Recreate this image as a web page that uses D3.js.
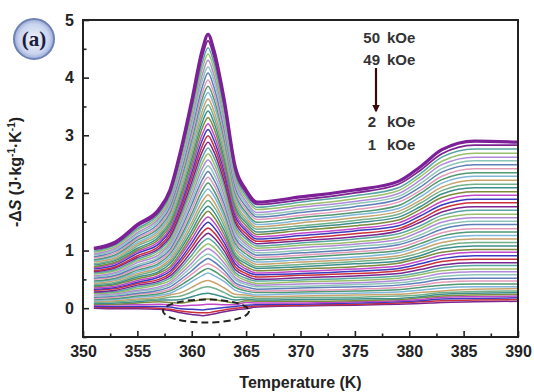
<!DOCTYPE html>
<html>
<head>
<meta charset="utf-8">
<script src="https://cdn.jsdelivr.net/npm/d3@7"></script>
<style>
	body { margin: 0; background: #fff; }
	text { font-family: Arial, "Liberation Sans", sans-serif; }
</style>
</head>
<body>
<div id="chart"></div>
<script>
"use strict"

//
// data: -dS (J/kg/K), one column per temperature,
// each column lists the 50 fields from 1 kOe up to 50 kOe
//
var fields = [1,2,3,4,5,6,7,8,9,10,11,12,13,14,15,16,17,18,19,20,21,22,23,24,25,
	26,27,28,29,30,31,32,33,34,35,36,37,38,39,40,41,42,43,44,45,46,47,48,49,50];
var temps = [351, 353, 355, 357, 358, 359, 360, 361, 361.5, 362, 363, 364, 365, 366, 370, 375, 379, 381, 383, 386, 390];
var dsCols = [
	[0.00,0.02,0.03,0.05,0.07,0.08,0.10,0.12,0.13,0.15,0.17,0.19,0.21,0.23,0.25,0.27,0.28,0.31,0.33,0.35,0.37,0.39,0.41,0.43,0.45,0.47,0.50,0.52,0.54,0.56,0.59,0.61,0.63,0.65,0.68,0.70,0.72,0.75,0.77,0.80,0.82,0.84,0.87,0.89,0.92,0.94,0.97,0.99,1.02,1.04],
	[-0.01,0.01,0.03,0.06,0.07,0.09,0.11,0.13,0.15,0.17,0.19,0.21,0.23,0.25,0.27,0.29,0.31,0.34,0.36,0.38,0.41,0.43,0.45,0.48,0.50,0.52,0.55,0.57,0.60,0.62,0.65,0.67,0.70,0.72,0.75,0.78,0.80,0.83,0.85,0.88,0.91,0.93,0.96,0.99,1.01,1.04,1.07,1.10,1.12,1.15],
	[-0.01,0.01,0.03,0.06,0.09,0.11,0.14,0.16,0.19,0.21,0.24,0.26,0.29,0.31,0.34,0.37,0.40,0.43,0.45,0.48,0.51,0.54,0.57,0.60,0.63,0.66,0.69,0.72,0.75,0.79,0.82,0.85,0.88,0.91,0.95,0.98,1.01,1.04,1.08,1.11,1.14,1.18,1.21,1.24,1.28,1.31,1.35,1.38,1.42,1.45],
	[-0.02,0.00,0.03,0.07,0.11,0.14,0.16,0.19,0.22,0.25,0.28,0.31,0.34,0.37,0.41,0.44,0.47,0.50,0.54,0.57,0.61,0.64,0.68,0.71,0.75,0.78,0.82,0.86,0.89,0.93,0.97,1.01,1.04,1.08,1.12,1.16,1.20,1.24,1.28,1.32,1.36,1.40,1.44,1.48,1.52,1.56,1.60,1.64,1.68,1.72],
	[-0.04,-0.02,0.02,0.06,0.10,0.14,0.19,0.23,0.26,0.30,0.33,0.37,0.41,0.44,0.48,0.52,0.56,0.60,0.64,0.68,0.72,0.77,0.81,0.85,0.89,0.94,0.98,1.02,1.07,1.11,1.15,1.20,1.24,1.29,1.34,1.38,1.43,1.48,1.52,1.57,1.62,1.66,1.71,1.76,1.81,1.85,1.90,1.95,2.00,2.05],
	[-0.08,-0.05,-0.01,0.04,0.09,0.15,0.21,0.27,0.35,0.40,0.45,0.50,0.55,0.60,0.65,0.70,0.75,0.81,0.86,0.92,0.97,1.03,1.08,1.14,1.20,1.25,1.31,1.37,1.43,1.49,1.55,1.61,1.67,1.73,1.79,1.85,1.92,1.98,2.04,2.10,2.17,2.23,2.29,2.36,2.42,2.49,2.55,2.62,2.68,2.75],
	[-0.11,-0.07,-0.02,0.05,0.12,0.20,0.28,0.36,0.46,0.52,0.59,0.65,0.72,0.78,0.85,0.92,0.99,1.06,1.13,1.20,1.27,1.34,1.42,1.49,1.57,1.64,1.72,1.80,1.87,1.95,2.03,2.11,2.19,2.27,2.35,2.43,2.51,2.59,2.67,2.75,2.84,2.92,3.00,3.09,3.17,3.26,3.34,3.43,3.51,3.60],
	[-0.13,-0.08,-0.03,0.06,0.15,0.25,0.36,0.46,0.57,0.65,0.73,0.81,0.89,0.98,1.06,1.15,1.23,1.32,1.41,1.50,1.59,1.68,1.77,1.86,1.96,2.05,2.15,2.24,2.34,2.44,2.53,2.63,2.73,2.83,2.93,3.03,3.14,3.24,3.34,3.44,3.55,3.65,3.75,3.86,3.97,4.07,4.18,4.28,4.39,4.50],
	[-0.12,-0.08,-0.02,0.07,0.16,0.26,0.37,0.48,0.61,0.69,0.77,0.86,0.94,1.03,1.12,1.21,1.30,1.39,1.49,1.58,1.68,1.77,1.87,1.97,2.07,2.17,2.27,2.37,2.47,2.57,2.68,2.78,2.88,2.99,3.10,3.20,3.31,3.42,3.53,3.63,3.74,3.85,3.96,4.08,4.19,4.30,4.41,4.52,4.64,4.75],
	[-0.10,-0.06,-0.01,0.07,0.15,0.24,0.35,0.45,0.57,0.65,0.73,0.81,0.89,0.98,1.06,1.15,1.23,1.32,1.41,1.50,1.59,1.68,1.77,1.86,1.96,2.05,2.15,2.24,2.34,2.44,2.53,2.63,2.73,2.83,2.93,3.03,3.14,3.24,3.34,3.44,3.55,3.65,3.75,3.86,3.97,4.07,4.18,4.28,4.39,4.50],
	[-0.06,-0.03,0.01,0.06,0.12,0.19,0.27,0.35,0.46,0.52,0.59,0.65,0.72,0.78,0.85,0.92,0.99,1.06,1.13,1.20,1.27,1.34,1.42,1.49,1.57,1.64,1.72,1.80,1.87,1.95,2.03,2.11,2.19,2.27,2.35,2.43,2.51,2.59,2.67,2.75,2.84,2.92,3.00,3.09,3.17,3.26,3.34,3.43,3.51,3.60],
	[-0.03,0.00,0.03,0.06,0.09,0.14,0.19,0.24,0.31,0.36,0.40,0.44,0.49,0.53,0.58,0.62,0.67,0.72,0.77,0.82,0.87,0.91,0.96,1.02,1.07,1.12,1.17,1.22,1.27,1.33,1.38,1.43,1.49,1.54,1.60,1.65,1.71,1.76,1.82,1.87,1.93,1.99,2.04,2.10,2.16,2.22,2.28,2.33,2.39,2.45],
	[-0.01,0.02,0.05,0.10,0.13,0.16,0.19,0.23,0.26,0.30,0.33,0.37,0.41,0.44,0.48,0.52,0.56,0.60,0.64,0.68,0.72,0.77,0.81,0.85,0.89,0.94,0.98,1.02,1.07,1.11,1.15,1.20,1.24,1.29,1.34,1.38,1.43,1.48,1.52,1.57,1.62,1.66,1.71,1.76,1.81,1.85,1.90,1.95,2.00,2.05],
	[0.02,0.04,0.06,0.09,0.12,0.14,0.17,0.20,0.23,0.27,0.30,0.33,0.37,0.40,0.43,0.47,0.50,0.54,0.58,0.61,0.65,0.69,0.72,0.76,0.80,0.84,0.88,0.92,0.96,1.00,1.04,1.08,1.12,1.16,1.20,1.24,1.28,1.32,1.37,1.41,1.45,1.49,1.54,1.58,1.62,1.66,1.71,1.75,1.80,1.84],
	[0.04,0.05,0.07,0.09,0.12,0.15,0.18,0.21,0.25,0.28,0.31,0.35,0.38,0.42,0.46,0.49,0.53,0.57,0.60,0.64,0.68,0.72,0.76,0.80,0.84,0.88,0.92,0.96,1.00,1.05,1.09,1.13,1.17,1.21,1.26,1.30,1.35,1.39,1.43,1.48,1.52,1.57,1.61,1.66,1.70,1.75,1.79,1.84,1.88,1.93],
	[0.05,0.07,0.09,0.11,0.13,0.16,0.19,0.23,0.26,0.30,0.33,0.37,0.41,0.44,0.48,0.52,0.56,0.60,0.64,0.68,0.72,0.77,0.81,0.85,0.89,0.94,0.98,1.02,1.07,1.11,1.15,1.20,1.24,1.29,1.34,1.38,1.43,1.48,1.52,1.57,1.62,1.66,1.71,1.76,1.81,1.85,1.90,1.95,2.00,2.05],
	[0.07,0.09,0.11,0.13,0.15,0.17,0.21,0.24,0.28,0.32,0.36,0.40,0.44,0.48,0.52,0.56,0.60,0.65,0.69,0.73,0.78,0.82,0.87,0.91,0.96,1.00,1.05,1.10,1.14,1.19,1.24,1.29,1.34,1.38,1.43,1.48,1.53,1.58,1.63,1.68,1.73,1.78,1.84,1.89,1.94,1.99,2.04,2.09,2.15,2.20],
	[0.08,0.11,0.13,0.15,0.18,0.20,0.23,0.27,0.31,0.36,0.40,0.44,0.49,0.53,0.58,0.62,0.67,0.72,0.77,0.82,0.87,0.91,0.96,1.02,1.07,1.12,1.17,1.22,1.27,1.33,1.38,1.43,1.49,1.54,1.60,1.65,1.71,1.76,1.82,1.87,1.93,1.99,2.04,2.10,2.16,2.22,2.28,2.33,2.39,2.45],
	[0.10,0.13,0.16,0.19,0.21,0.24,0.27,0.30,0.35,0.40,0.45,0.50,0.55,0.60,0.65,0.70,0.75,0.81,0.86,0.92,0.97,1.03,1.08,1.14,1.20,1.25,1.31,1.37,1.43,1.49,1.55,1.61,1.67,1.73,1.79,1.85,1.92,1.98,2.04,2.10,2.17,2.23,2.29,2.36,2.42,2.49,2.55,2.62,2.68,2.75],
	[0.11,0.14,0.17,0.20,0.23,0.26,0.29,0.33,0.37,0.42,0.47,0.52,0.58,0.63,0.68,0.74,0.79,0.85,0.91,0.97,1.02,1.08,1.14,1.20,1.26,1.32,1.38,1.45,1.51,1.57,1.63,1.70,1.76,1.83,1.89,1.96,2.02,2.09,2.15,2.22,2.29,2.35,2.42,2.49,2.56,2.62,2.69,2.76,2.83,2.90],
	[0.12,0.15,0.18,0.21,0.24,0.27,0.30,0.34,0.37,0.42,0.47,0.52,0.58,0.63,0.68,0.74,0.79,0.85,0.91,0.97,1.02,1.08,1.14,1.20,1.26,1.32,1.38,1.45,1.51,1.57,1.63,1.70,1.76,1.83,1.89,1.96,2.02,2.09,2.15,2.22,2.29,2.35,2.42,2.49,2.56,2.62,2.69,2.76,2.83,2.88]
];
var xTicks = [350, 355, 360, 365, 370, 375, 380, 385, 390];
var yTicks = [0, 1, 2, 3, 4, 5];
var lineColors = ["#7a2590", "#cc2f3a", "#3b3bbf", "#c247c9", "#7f8a3a", "#3e8f8c", "#72b08a", "#c9a36e",
	"#7fb6da", "#4f9a72", "#e39ab8", "#5e7fb8", "#8dc6b8", "#b08ad8", "#9abf6a", "#58a6a2"];

//
// layout
//
var W = 534, H = 392;
var pLeft = 83, pRight = 518, pTop = 20, pBottom = 337;

var svg = d3.select("#chart").append("svg")
	.attr("width", W)
	.attr("height", H)
	;

var x = d3.scaleLinear().domain([350, 390]).range([pLeft, pRight]);
var y = d3.scaleLinear().domain([-0.5, 5]).range([pBottom, pTop]);

//
// curves, 1 kOe first so 50 kOe ends up on top
//
var line = d3.line()
	.x(function(d) { return x(d.t); })
	.y(function(d) { return y(d.v); })
	.curve(d3.curveMonotoneX)
	;

var series = fields.map(function(h, j) {
	return {
		field: h,
		pts: temps.map(function(t, i) { return { t: t, v: dsCols[i][j] }; })
	};
});

svg.append("g").attr("class", "curves")
	.selectAll("path")
	.data(series)
	.enter().append("path")
		.attr("d", function(d) { return line(d.pts); })
		.attr("fill", "none")
		.attr("stroke", function(d) { return d.field == 50 ? "#7d1f96" : lineColors[(d.field - 1) % lineColors.length]; })
		.attr("stroke-width", function(d) { return d.field == 50 ? 3.2 : (d.field == 49 ? 1.8 : 1.5); })
		.attr("stroke-linejoin", "round")
	;

//
// axes, ticks pointing inward
//
var minorX = [352.5, 357.5, 362.5, 367.5, 372.5, 377.5, 382.5, 387.5];
var minorY = [-0.5, 0.5, 1.5, 2.5, 3.5, 4.5];

var gx = svg.append("g")
	.attr("transform", "translate(0," + pBottom + ")")
	.call(d3.axisBottom(x).tickValues(xTicks).tickSize(-6).tickPadding(9).tickFormat(d3.format("d")))
	;
var gxm = svg.append("g")
	.attr("transform", "translate(0," + pBottom + ")")
	.call(d3.axisBottom(x).tickValues(minorX).tickSize(-3.5).tickFormat(""))
	;
var gy = svg.append("g")
	.attr("transform", "translate(" + pLeft + ",0)")
	.call(d3.axisLeft(y).tickValues(yTicks).tickSize(-6).tickPadding(9).tickFormat(d3.format("d")))
	;
var gym = svg.append("g")
	.attr("transform", "translate(" + pLeft + ",0)")
	.call(d3.axisLeft(y).tickValues(minorY).tickSize(-3.5).tickFormat(""))
	;
[gx, gxm, gy, gym].forEach(function(g) {
	g.select(".domain").remove();
	g.selectAll("line").attr("stroke", "#222").attr("stroke-width", 1.6);
	g.selectAll("text")
		.attr("fill", "#222")
		.style("font-size", "16px")
		.style("font-weight", "bold")
		;
});

svg.append("rect")
	.attr("x", pLeft)
	.attr("y", pTop)
	.attr("width", pRight - pLeft)
	.attr("height", pBottom - pTop)
	.attr("fill", "none")
	.attr("stroke", "#222")
	.attr("stroke-width", 2)
	;

//
// axis titles
//
svg.append("text")
	.attr("x", (pLeft + pRight) / 2)
	.attr("y", 388)
	.attr("text-anchor", "middle")
	.attr("fill", "#222")
	.style("font-size", "16px")
	.style("font-weight", "bold")
	.text("Temperature (K)")
	;

var yt = svg.append("text")
	.attr("transform", "translate(21,172) rotate(-90)")
	.attr("text-anchor", "middle")
	.attr("fill", "#222")
	.style("font-size", "16px")
	.style("font-weight", "bold")
	;
yt.append("tspan").text("-\u0394");
yt.append("tspan").style("font-style", "italic").text("S");
yt.append("tspan").text(" (J\u00b7kg");
yt.append("tspan").attr("dy", -6).style("font-size", "10px").text("-1");
yt.append("tspan").attr("dy", 6).text("\u00b7K");
yt.append("tspan").attr("dy", -6).style("font-size", "10px").text("-1");
yt.append("tspan").attr("dy", 6).text(")");

//
// field labels and arrow
//
var labels = [
	{ n: "50", y: 43, nx: 380 },
	{ n: "49", y: 65, nx: 380 },
	{ n: "2",  y: 127, nx: 376 },
	{ n: "1",  y: 150, nx: 376 }
];
labels.forEach(function(d) {
	svg.append("text")
		.attr("x", d.nx).attr("y", d.y)
		.attr("text-anchor", "end")
		.attr("fill", "#333")
		.style("font-size", "15px")
		.style("font-weight", "bold")
		.text(d.n)
		;
	svg.append("text")
		.attr("x", 387).attr("y", d.y)
		.attr("fill", "#333")
		.style("font-size", "15px")
		.style("font-weight", "bold")
		.text("kOe")
		;
});

var defs = svg.append("defs");
defs.append("marker")
	.attr("id", "arrowHead")
	.attr("viewBox", "0 0 10 10")
	.attr("refX", 8).attr("refY", 5)
	.attr("markerWidth", 3.5).attr("markerHeight", 4)
	.attr("orient", "auto")
	.append("path")
		.attr("d", "M0,0 L10,5 L0,10 z")
		.attr("fill", "#3a0a0a")
	;
svg.append("line")
	.attr("x1", 376).attr("y1", 68)
	.attr("x2", 376).attr("y2", 111)
	.attr("stroke", "#3a0a0a")
	.attr("stroke-width", 2.2)
	.attr("marker-end", "url(#arrowHead)")
	;

//
// dashed ellipse round the negative dip
//
svg.append("ellipse")
	.attr("cx", 206).attr("cy", 311)
	.attr("rx", 43).attr("ry", 11.5)
	.attr("fill", "none")
	.attr("stroke", "#222")
	.attr("stroke-width", 2)
	.attr("stroke-dasharray", "7,4")
	;

//
// (a) badge
//
var grad = defs.append("radialGradient").attr("id", "badgeFill");
grad.append("stop").attr("offset", "0%").attr("stop-color", "#eef2fb");
grad.append("stop").attr("offset", "75%").attr("stop-color", "#c9d4ee");
grad.append("stop").attr("offset", "100%").attr("stop-color", "#9aaad6");
svg.append("circle")
	.attr("cx", 34).attr("cy", 39)
	.attr("r", 20)
	.attr("fill", "url(#badgeFill)")
	.attr("stroke", "#6f82b5")
	.attr("stroke-width", 2)
	;
svg.append("text")
	.attr("x", 34).attr("y", 46)
	.attr("text-anchor", "middle")
	.attr("fill", "#1c1c3c")
	.style("font-family", "'Liberation Serif', 'Times New Roman', serif")
	.style("font-size", "21px")
	.style("font-weight", "bold")
	.text("(a)")
	;
</script>
</body>
</html>
